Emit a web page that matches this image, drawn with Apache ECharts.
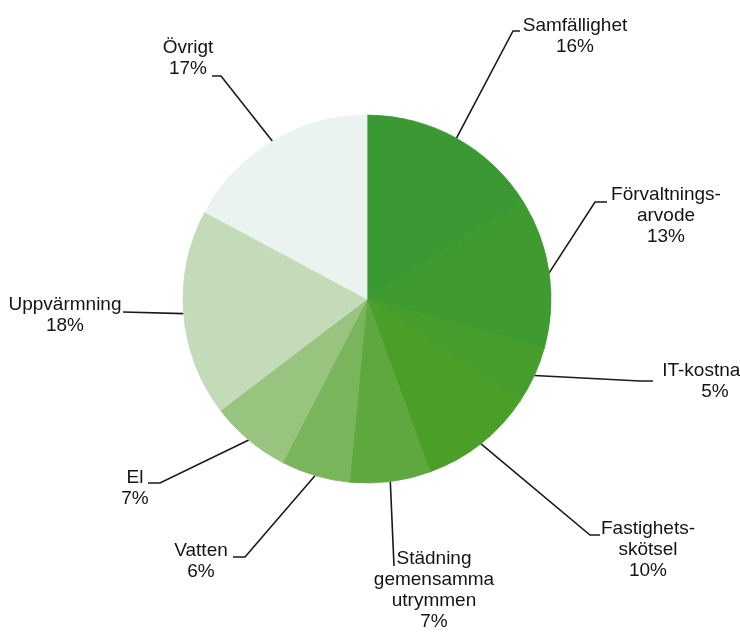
<!DOCTYPE html>
<html lang="sv">
<head>
<meta charset="utf-8">
<title>Kostnadsfördelning</title>
<script src="https://cdn.jsdelivr.net/npm/echarts@6/dist/echarts.min.js"></script>
<style>
  html, body { margin: 0; padding: 0; background: #ffffff; }
  #chart { width: 740px; height: 633px; }
</style>
</head>
<body>
<div id="chart"></div>
<script>
// Cost categories, clockwise from twelve o'clock
const categories = [
  'Samfällighet',
  'Förvaltnings-\narvode',
  'IT-kostnader',
  'Fastighets-\nskötsel',
  'Städning\ngemensamma\nutrymmen',
  'Vatten',
  'El',
  'Uppvärmning',
  'Övrigt'
];

// Share of total cost, percent
const shares = [16, 13, 5, 10, 7, 6, 7, 18, 17];

// Slice fills, dark to light green
const sliceColors = [
  '#3b9934', '#3f9b30', '#469d2b', '#4b9e28',
  '#5fa73f', '#79b55b', '#98c480', '#c3dbb9', '#eaf3ef'
];

// Label placement: text block centre, elbow and end of the leader line
const labelSpots = [
  { x: 575, y: 36,  bend: [513, 31],  end: [520, 31] },
  { x: 666, y: 216, bend: [595, 202], end: [607, 202] },
  { x: 715, y: 381, bend: [640, 381], end: [653, 381] },
  { x: 648, y: 550, bend: [590, 535], end: [600, 535] },
  { x: 434, y: 590, bend: [394, 566], end: [394, 566] },
  { x: 201, y: 561, bend: [245, 557], end: [233, 557] },
  { x: 135, y: 488, bend: [160, 483], end: [148, 483] },
  { x: 65,  y: 315, bend: [123, 312], end: [123, 312] },
  { x: 188, y: 58,  bend: [221, 76],  end: [212, 76] }
];

const pieCenter = [367, 299];
const pieRadius = 184;

const chart = echarts.init(document.getElementById('chart'), null, { renderer: 'canvas' });

const total = shares.reduce((a, b) => a + b, 0);

// Fallback edge point at the middle of a slice
function sliceEdge(i) {
  let before = 0;
  for (let k = 0; k < i; k++) before += shares[k];
  const mid = (before + shares[i] / 2) / total * Math.PI * 2;
  return [pieCenter[0] + pieRadius * Math.sin(mid), pieCenter[1] - pieRadius * Math.cos(mid)];
}

chart.setOption({
  backgroundColor: '#ffffff',
  animation: false,
  series: [{
    type: 'pie',
    center: pieCenter,
    radius: pieRadius,
    startAngle: 90,
    clockwise: true,
    avoidLabelOverlap: false,
    data: categories.map((name, i) => ({
      name: name,
      value: shares[i],
      // a hairline border in the fill colour hides seams between slices
      itemStyle: { color: sliceColors[i], borderColor: sliceColors[i], borderWidth: 0.8 }
    })),
    label: {
      show: true,
      position: 'outside',
      formatter: (p) => p.name + '\n' + p.value + '%',
      color: '#141414',
      fontFamily: '"Liberation Sans", Arial, Helvetica, sans-serif',
      fontSize: 19,
      lineHeight: 21,
      align: 'center'
    },
    labelLine: {
      show: true,
      length: 20,
      length2: 10,
      lineStyle: { color: '#1a1a1a', width: 1.6 }
    },
    emphasis: { disabled: true },
    labelLayout: function (params) {
      const i = params.dataIndex;
      const spot = labelSpots[i];
      const pts = params.labelLinePoints;
      const start = (pts && pts[0]) ? pts[0] : sliceEdge(i);
      return {
        x: spot.x,
        y: spot.y,
        align: 'center',
        verticalAlign: 'middle',
        labelLinePoints: [start, spot.bend, spot.end]
      };
    }
  }]
});
</script>
</body>
</html>
